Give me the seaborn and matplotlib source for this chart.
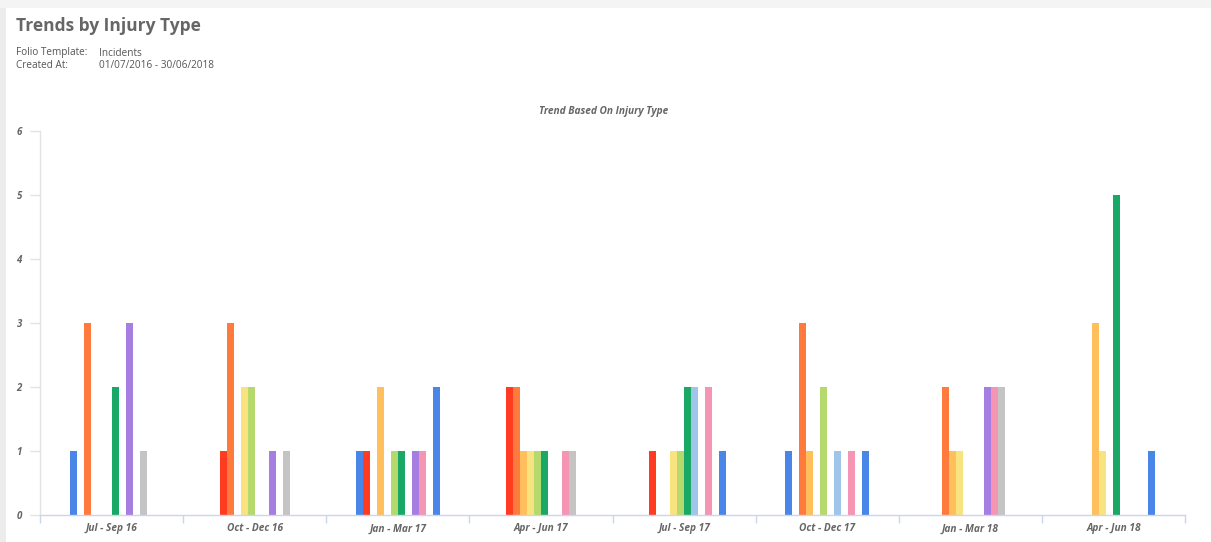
import matplotlib
matplotlib.use("Agg")
import matplotlib.pyplot as plt
from matplotlib.patches import Rectangle
from matplotlib.ticker import FixedLocator
import seaborn as sns
import pandas as pd

quarters = ["Jul - Sep 16", "Oct - Dec 16", "Jan - Mar 17", "Apr - Jun 17",
            "Jul - Sep 17", "Oct - Dec 17", "Jan - Mar 18", "Apr - Jun 18"]

injury_types = ["Abrasion", "Burn", "Contusion", "Cut / Laceration", "Dislocation",
                "Fracture", "Sprain / Strain", "Bite / Sting", "Puncture",
                "Crush", "Other", "Unknown"]

colors = ["#4a86e8", "#ff3b22", "#ff7a3d", "#ffbf5c", "#f9e37e", "#b5d96c",
          "#1aa866", "#9fc5e8", "#a67de0", "#f694b4", "#c4c4c4", "#4a86e8"]

# one list per injury type, values per quarter
abrasion      = [1, 0, 1, 0, 0, 1, 0, 0]
burn          = [0, 1, 1, 2, 1, 0, 0, 0]
contusion     = [3, 3, 0, 2, 0, 3, 2, 0]
cut           = [0, 0, 2, 1, 0, 1, 1, 3]
dislocation   = [0, 2, 0, 1, 1, 0, 1, 1]
fracture      = [0, 2, 1, 1, 1, 2, 0, 0]
sprain        = [2, 0, 1, 1, 2, 0, 0, 5]
bite          = [0, 0, 0, 0, 2, 1, 0, 0]
puncture      = [3, 1, 1, 0, 0, 0, 2, 0]
crush         = [0, 0, 1, 1, 2, 1, 2, 0]
other         = [1, 1, 0, 1, 0, 0, 2, 0]
unknown       = [0, 0, 2, 0, 1, 1, 0, 1]

series = [abrasion, burn, contusion, cut, dislocation, fracture, sprain,
          bite, puncture, crush, other, unknown]

rows = []
for name, vals in zip(injury_types, series):
    for q, v in zip(quarters, vals):
        rows.append({"Quarter": q, "Injury Type": name, "Count": v})
df = pd.DataFrame(rows)

sns.set_theme(style="white")
plt.rcParams["font.family"] = ["Open Sans", "DejaVu Sans"]

W, H = 1211, 542
fig = plt.figure(figsize=(W / 100, H / 100), dpi=100)
fig.patch.set_facecolor("white")

# card frame
fig.patches.append(Rectangle((0, 0), 6 / W, 1, transform=fig.transFigure,
                             facecolor="#ececec", edgecolor="none", zorder=0))
fig.patches.append(Rectangle((0, 1 - 8 / H), 1, 8 / H, transform=fig.transFigure,
                             facecolor="#f4f4f4", edgecolor="none", zorder=0))

ax = fig.add_axes([40 / W, (H - 515) / H, (1185 - 40) / W, (515 - 131) / H])
ax.set_facecolor("white")

sns.barplot(data=df, x="Quarter", y="Count", hue="Injury Type",
            order=quarters, hue_order=injury_types, palette=colors,
            saturation=1, width=0.587, linewidth=0, edgecolor="none",
            legend=False, ax=ax, errorbar=None)

ax.set_xlim(-0.5, len(quarters) - 0.5)
ax.set_ylim(0, 6)
ax.set_yticks(range(0, 7))
ax.set_xlabel("")
ax.set_ylabel("")

for s in ["top", "right"]:
    ax.spines[s].set_visible(False)
ax.spines["left"].set_color("#e3e3e3")
ax.spines["left"].set_linewidth(1)
ax.spines["bottom"].set_color("#ccd6eb")
ax.spines["bottom"].set_linewidth(1)

ax.tick_params(axis="y", which="major", length=7, width=1, color="#e3e3e3",
               labelsize=7, labelcolor="#666666", pad=6, left=True)
ax.tick_params(axis="x", which="major", length=0, labelsize=7.3,
               labelcolor="#666666", pad=6)
ax.xaxis.set_minor_locator(FixedLocator([i - 0.5 for i in range(len(quarters) + 1)]))
ax.tick_params(axis="x", which="minor", length=6, width=1, color="#ccd6eb",
               bottom=True)
for lab in ax.get_xticklabels() + ax.get_yticklabels():
    lab.set_fontstyle("italic")
    lab.set_fontweight("bold")

ax.set_title("Trend Based On Injury Type", fontsize=7.3, fontstyle="italic",
             fontweight="bold", color="#666666", pad=12, x=0.492)

fig.text(16 / W, 1 - 26 / H, "Trends by Injury Type", fontsize=12.5,
         fontweight="bold", color="#666666", va="center", ha="left")
fig.text(16 / W, 1 - 53 / H, "Folio Template:", fontsize=7.2, color="#555555",
         va="center", ha="left")
fig.text(99 / W, 1 - 53 / H, "Incidents", fontsize=7.2, color="#555555",
         va="center", ha="left")
fig.text(16 / W, 1 - 66 / H, "Created At:", fontsize=7.2, color="#555555",
         va="center", ha="left")
fig.text(99 / W, 1 - 66 / H, "01/07/2016 - 30/06/2018", fontsize=7.2,
         color="#555555", va="center", ha="left")

fig.savefig("out.png", dpi=100, facecolor="white")
